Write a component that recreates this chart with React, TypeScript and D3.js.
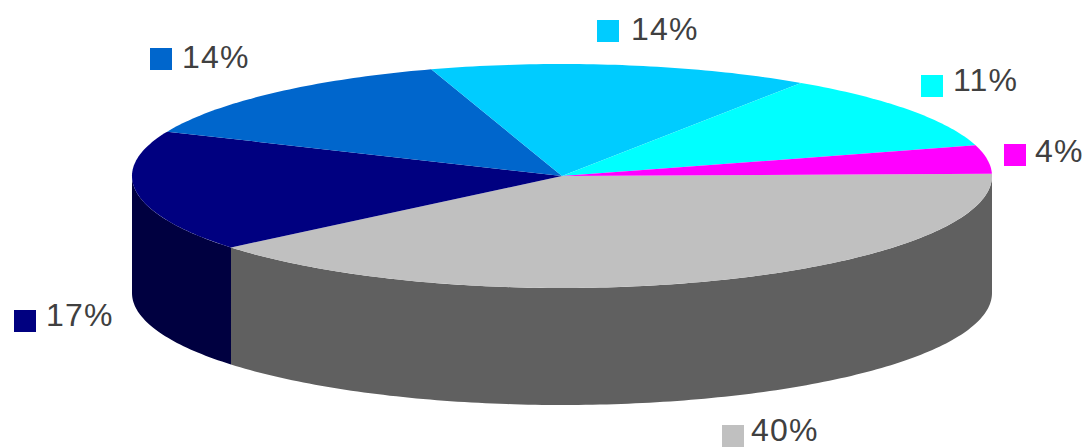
import React from 'react';
import * as d3 from 'd3';

const categories = ['a', 'b', 'c', 'd', 'e', 'f'];
const shares = [39.3, 17.5, 13.6, 14.3, 11.2, 4.1];
const tickLabels = ['40%', '17%', '14%', '14%', '11%', '4%'];
const topColors = ['#c0c0c0', '#000080', '#0066cc', '#00ccff', '#00ffff', '#ff00ff'];
const sideColors = ['#606060', '#000040', '#003366', '#006680', '#008080', '#800080'];
const swatchPos = [[722, 425], [14, 310], [150, 48], [597, 20], [921, 75], [1004, 144]];
const textPos = [[751, 441], [46, 326], [182, 68], [631, 40], [953, 91], [1035, 162]];

const cx = 562;
const cy = 176;
const rx = 430;
const ry = 112;
const depth = 117;
const W = 1087;
const H = 447;

const startAngle = Math.PI / 2 - 0.02;

const px = (a: number) => cx + rx * Math.sin(a);
const py = (a: number) => cy - ry * Math.cos(a);

// elliptical arc, sampled so it works in either direction
const arcPath = (a0: number, a1: number, dy = 0) => {
  const steps = Math.max(2, Math.ceil(Math.abs(a1 - a0) * 60));
  const line = d3.line<number>().x((a) => px(a)).y((a) => py(a) + dy);
  return line(d3.range(steps + 1).map((i) => a0 + ((a1 - a0) * i) / steps)) || '';
};

const App: React.FC = () => {
  const pie = d3.pie<number>().sort(null).startAngle(startAngle).endAngle(startAngle + 2 * Math.PI);
  const slices = pie(shares);

  return (
    <svg
      width={W}
      height={H}
      style={{ position: 'absolute', left: 0, top: 0, background: '#fff' }}
      fontFamily="Liberation Sans, Arial, sans-serif"
    >
      {/* side wall, only the front half of the ellipse shows */}
      {slices.map((s, i) => {
        const a0 = Math.max(s.startAngle, Math.PI / 2);
        const a1 = Math.min(s.endAngle, (3 * Math.PI) / 2);
        if (a1 <= a0) return null;
        const top = arcPath(a0, a1);
        const bottom = arcPath(a1, a0, depth);
        return <path key={categories[i]} d={top + 'L' + bottom.slice(1) + 'Z'} fill={sideColors[i]} />;
      })}
      {slices.map((s, i) => (
        <path
          key={categories[i]}
          d={`M${cx},${cy}L` + arcPath(s.startAngle, s.endAngle).slice(1) + 'Z'}
          fill={topColors[i]}
        />
      ))}
      {categories.map((c, i) => (
        <g key={c}>
          <rect x={swatchPos[i][0]} y={swatchPos[i][1]} width={22} height={22} fill={topColors[i]} />
          <text x={textPos[i][0]} y={textPos[i][1]} fontSize={32} letterSpacing={1.2} fill="#404040">
            {tickLabels[i]}
          </text>
        </g>
      ))}
    </svg>
  );
};

export default App;
